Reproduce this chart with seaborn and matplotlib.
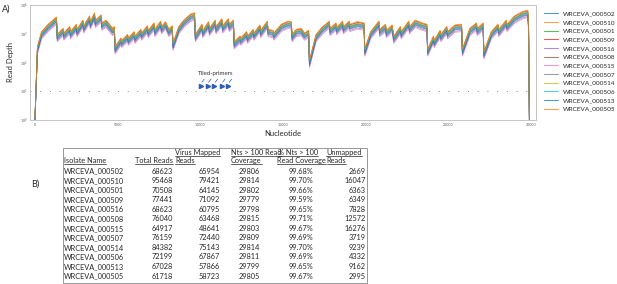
import numpy as np
import pandas as pd
import matplotlib
matplotlib.use("Agg")
import matplotlib.pyplot as plt
from matplotlib.patches import Rectangle
from matplotlib.lines import Line2D
import seaborn as sns

# ---------------- data ----------------
samples = ["WRCEVA_000502", "WRCEVA_000510", "WRCEVA_000501", "WRCEVA_000509",
           "WRCEVA_000516", "WRCEVA_000508", "WRCEVA_000515", "WRCEVA_000507",
           "WRCEVA_000514", "WRCEVA_000506", "WRCEVA_000513", "WRCEVA_000505"]
# relative depth level of each sample vs. the shared coverage profile
sample_level = [0.85, 1.15, 1.0, 1.12, 0.72, 0.95, 0.66, 0.9, 1.05, 1.0, 0.8, 1.2]

profile_nt = [0, 150, 400, 800, 1300, 1350, 1700, 1750, 2100, 2150, 2500, 2550,
              2900, 2950, 3300, 3350, 3600, 3650, 4000, 4050, 4300, 4700, 4800, 4850,
              5200, 5250, 5600, 5650, 6000, 6050, 6400, 6450, 6800, 6850, 7200, 7250,
              7600, 7650, 7900, 8100, 8300, 8350, 8700, 9000, 9400, 9650, 9700, 10100,
              10150, 10500, 10550, 10900, 10950, 11300, 11350, 11700, 11750, 12000, 12050,
              12400, 12450, 12800, 12850, 13200, 13250, 13600, 13650, 14050, 14100, 14400,
              14450, 14900, 15300, 15500, 15550, 15800, 16100, 16300, 16550, 16600, 17000,
              17400, 17800, 17850, 18200, 18250, 18600, 18650, 19000, 19050, 19500, 19900,
              19950, 20300, 20800, 20850, 21200, 21250, 21600, 21700, 22100, 22150, 22600,
              22650, 23000, 23400, 23700, 23750, 24100, 24150, 24500, 24550, 24900, 24950,
              25400, 25800, 25850, 26300, 26700, 26750, 27100, 27150, 27600, 28000, 28050,
              28500, 28550, 29000, 29500, 29800, 29850, 29900]
profile_depth = [1, 300, 1000, 1800, 3200, 800, 1300, 900, 1500, 1000, 1800, 1200,
                 2500, 1600, 3500, 2200, 4500, 2500, 3800, 2000, 2500, 1300, 1500, 300,
                 600, 500, 800, 600, 1000, 700, 1200, 900, 1600, 1100, 2000, 1200,
                 2300, 1500, 2200, 1200, 1600, 400, 1500, 2500, 4000, 4500, 800, 1800,
                 1100, 2200, 1300, 2500, 1500, 2800, 1600, 2800, 1800, 2500, 450,
                 700, 600, 1000, 700, 1200, 900, 1700, 1100, 2300, 1200, 1100,
                 900, 1800, 2300, 2200, 800, 1200, 1300, 900, 1100, 100, 800,
                 1500, 2300, 1300, 2000, 1400, 2300, 1500, 2300, 1800, 2200, 2000,
                 250, 1000, 2300, 1200, 1800, 1100, 1700, 700, 1500, 1000, 2300,
                 1500, 2500, 2000, 1800, 250, 700, 500, 1100, 800, 1500, 1000,
                 1700, 1800, 250, 1300, 2000, 1300, 2000, 200, 1000, 1800, 1200,
                 2500, 1800, 3500, 5000, 5500, 2000, 1]

primer_nt = [10040, 10450, 10850, 11300, 11700]
primer_depth = 15
threshold_depth = 10

total_reads = [68623, 95468, 70508, 77441, 68623, 76040, 64917, 76159, 84382, 72199, 67028, 61718]
virus_mapped = [65954, 79421, 64145, 71092, 60795, 63468, 48641, 72440, 75143, 67867, 57866, 58723]
nts_over_100 = [29806, 29814, 29802, 29779, 29798, 29815, 29803, 29809, 29814, 29811, 29799, 29805]
pct_over_100 = ["99.68%", "99.70%", "99.66%", "99.59%", "99.65%", "99.71%", "99.67%",
                "99.69%", "99.70%", "99.69%", "99.65%", "99.67%"]
unmapped = [2669, 16047, 6363, 6349, 7828, 12572, 16276, 3719, 9239, 4332, 9162, 2995]

# ---------------- figure ----------------
sns.set_theme(style="white")
plt.rcParams['font.family'] = ['Lato', 'DejaVu Sans']

W, H = 617, 284
fig = plt.figure(figsize=(W / 100, H / 100), dpi=100)

def P(x, y):
    return (x / W, 1 - y / H)

ax = fig.add_axes([30 / W, 1 - 120 / H, (536 - 30) / W, (120 - 5) / H])

rows = []
for s, lvl in zip(samples, sample_level):
    for n, d in zip(profile_nt, profile_depth):
        rows.append((s, n, max(d * lvl, 1.0)))
df = pd.DataFrame(rows, columns=["sample", "nt", "depth"])

pal = sns.color_palette("tab10", 10)
pal = pal + pal[:2]
sns.lineplot(data=df, x="nt", y="depth", hue="sample", hue_order=samples,
             palette=pal, linewidth=0.6, alpha=0.75, ax=ax, legend=False)

ax.axhline(threshold_depth, color="#888888", lw=0.7, ls=(0, (1, 9)))
ax.plot(primer_nt, [primer_depth] * len(primer_nt), ls="none", marker=">",
        ms=3, color="#2f5fb3")
for n in primer_nt:
    ax.annotate("", xy=(n - 50, primer_depth * 1.15), xytext=(n + 300, primer_depth * 2.1),
                arrowprops=dict(arrowstyle="-", color="#2f5fb3", lw=0.5))
ax.text(10900, 34, "Tiled-primers", fontsize=4.4, ha="center", va="bottom", color="#333333")

ax.set_yscale("log")
ax.set_ylim(1, 1e4)
ax.set_xlim(-300, 30300)
ax.set_xticks([0, 5000, 10000, 15000, 20000, 25000, 30000])
ax.set_xticklabels(["0", "5000", "10000", "15000", "20000", "25000", "30000"])
ax.tick_params(axis="both", labelsize=2.6, length=1, width=0.4, pad=1, colors="#555555")
ax.tick_params(axis="both", which="minor", length=0)
ax.set_xlabel("Nucleotide", fontsize=5.5, labelpad=2)
ax.set_ylabel("Read Depth", fontsize=5.5, labelpad=4)
for sp in ax.spines.values():
    sp.set_color("#bbbbbb")
    sp.set_linewidth(0.6)

handles = [Line2D([0], [0], color=c, lw=0.8, alpha=0.75) for c in pal]
ax.legend(handles, samples, loc="upper left", bbox_to_anchor=(1.01, 0.97),
          frameon=False, fontsize=4.6, handlelength=2.2, labelspacing=0.5,
          handletextpad=0.8, borderaxespad=0)

fig.text(*P(2, 9), "A)", fontsize=6.5, va="center")
fig.text(*P(31, 184), "B)", fontsize=6.5, va="center")

# ---------------- table ----------------
fig.patches.append(Rectangle(P(63, 283), (367 - 63) / W, (283 - 148) / H,
                             transform=fig.transFigure, fill=False,
                             edgecolor="#888888", lw=0.6))
fs = 5.35
hdr = []
hdr_items = [("Isolate Name", 64, 163, "left"), ("Total Reads", 173, 163, "right"),
             ("Virus Mapped", 175, 155, "left"), ("Reads", 175, 163, "left"),
             ("Nts > 100 Read", 231, 155, "left"), ("Coverage", 231, 163, "left"),
             ("% Nts > 100", 277.5, 155, "left"), ("Read Coverage", 277, 163, "left"),
             ("Unmapped", 326, 155, "left"), ("Reads", 326.5, 163, "left")]
for t, x, y, ha in hdr_items:
    hdr.append(fig.text(*P(x, y), t, fontsize=fs, ha=ha, va="baseline"))

row_y0, row_dy = 173.5, 9.55
for i in range(len(samples)):
    y = row_y0 + i * row_dy
    fig.text(*P(64, y), samples[i], fontsize=fs, ha="left", va="baseline")
    fig.text(*P(173, y), str(total_reads[i]), fontsize=fs, ha="right", va="baseline")
    fig.text(*P(220, y), str(virus_mapped[i]), fontsize=fs, ha="right", va="baseline")
    fig.text(*P(260, y), str(nts_over_100[i]), fontsize=fs, ha="right", va="baseline")
    fig.text(*P(313, y), pct_over_100[i], fontsize=fs, ha="right", va="baseline")
    fig.text(*P(366, y), str(unmapped[i]), fontsize=fs, ha="right", va="baseline")

fig.canvas.draw()
r = fig.canvas.get_renderer()
for t in hdr:
    bb = t.get_window_extent(r)
    yb = bb.y0 + 0.2
    fig.lines.append(Line2D([bb.x0 / W, bb.x1 / W], [yb / H, yb / H],
                            transform=fig.transFigure, color="#222222", lw=0.5))

fig.savefig("out.png", dpi=100)
